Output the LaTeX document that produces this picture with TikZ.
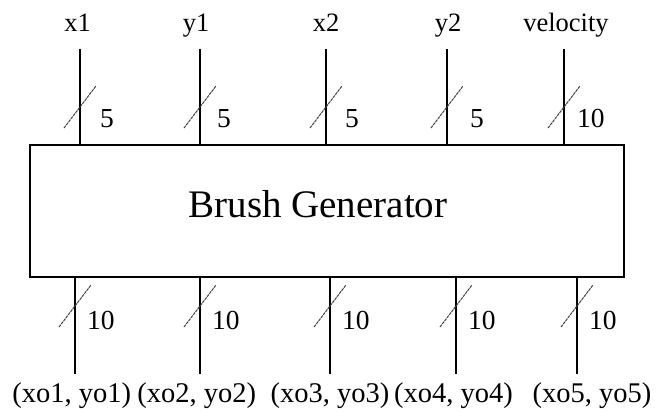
\documentclass[tikz,border=0pt]{standalone}
\usepackage{fontspec}
\setmainfont{Liberation Serif}
\begin{document}
\begin{tikzpicture}[x=1pt,y=-1pt,
  wire/.style={line width=2pt, black},
  busslash/.style={line width=1pt, black!75, dash pattern=on 3pt off 0.8pt},
  sig/.style={font=\fontsize{26.5}{30}\selectfont, inner sep=0pt, anchor=base},
  outsig/.style={font=\fontsize{28.5}{32}\selectfont, inner sep=0pt, anchor=base},
  width/.style={font=\fontsize{27.5}{30}\selectfont, inner sep=0pt, anchor=base west},
  blk/.style={draw, line width=2pt, minimum width=594pt, minimum height=132pt, inner sep=0pt, anchor=north west}]
\useasboundingbox (0,0) rectangle (656,412);
\node[blk] (bg) at (29,144) {};
\node[font=\fontsize{39}{44}\selectfont, inner sep=0pt, anchor=base] (title) at (318,217) {Brush Generator};
% inputs
\foreach \n/\x/\lx/\txt/\w/\wo in {1/80/77.5/x1/5/20, 2/200/196/y1/5/17, 3/326/326/x2/5/19, 4/447/448/y2/5/23, 5/564/566/velocity/10/13}{
  \node[sig] (in\n) at (\lx,32) {\txt};
  \coordinate (it\n) at (\x,49);
  \coordinate (is\n) at (\x,107);
  \draw[wire] (it\n) -- (it\n |- bg.north);
  \draw[busslash, shift={(is\n)}] (-16,21) -- (16,-21);
  \node[width] (iw\n) at (\x+\wo,127) {\w};
}
% outputs
\foreach \n/\x/\lx/\txt in {1/75/71.7/{(xo1, yo1)}, 2/200/196.7/{(xo2, yo2)}, 3/330/330/{(xo3, yo3)}, 4/456/453.5/{(xo4, yo4)}, 5/577/592/{(xo5, yo5)}}{
  \coordinate (ob\n) at (\x,374);
  \coordinate (os\n) at (\x,306);
  \draw[wire] (ob\n |- bg.south) -- (ob\n);
  \draw[busslash, shift={(os\n)}] (-16,21) -- (16,-21);
  \node[width] (ow\n) at (\x+12,329) {10};
  \node[outsig] (out\n) at (\lx,402) {\txt};
}
\end{tikzpicture}
\end{document}
